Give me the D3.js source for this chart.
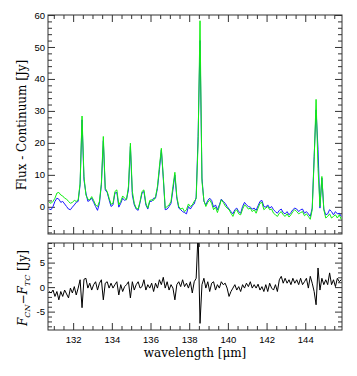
<!DOCTYPE html>
<meta charset="utf-8">
<style>
body { margin: 0; background: #fff; }
svg { display: block; font-family: "DejaVu Serif", serif; }
.tick text { font-size: 9.5px; fill: #000; }
.tick line { stroke: #333; }
.frame { fill: none; stroke: #333; stroke-width: 1px; }
.title { font-size: 12px; fill: #000; }
</style>

<svg width="357" height="376"></svg>

<script src="https://d3js.org/d3.v7.min.js"></script>
<script>

// wavelength grid [micron]
var wavelength = [
  130.76,130.86,130.96,131.06,131.16,131.26,131.36,131.46,131.56,131.66,
  131.76,131.86,131.96,132.06,132.16,132.26,132.36,132.46,132.56,132.66,
  132.76,132.86,132.96,133.06,133.16,133.26,133.36,133.46,133.56,133.66,
  133.76,133.86,133.96,134.06,134.16,134.26,134.36,134.46,134.56,134.66,
  134.76,134.86,134.96,135.06,135.16,135.26,135.36,135.46,135.56,135.66,
  135.76,135.86,135.96,136.06,136.16,136.26,136.36,136.46,136.56,136.66,
  136.76,136.86,136.96,137.06,137.16,137.26,137.36,137.46,137.56,137.66,
  137.76,137.86,137.96,138.06,138.16,138.26,138.36,138.46,138.56,138.66,
  138.76,138.86,138.96,139.06,139.16,139.26,139.36,139.46,139.56,139.66,
  139.76,139.86,139.96,140.06,140.16,140.26,140.36,140.46,140.56,140.66,
  140.76,140.86,140.96,141.06,141.16,141.26,141.36,141.46,141.56,141.66,
  141.76,141.86,141.96,142.06,142.16,142.26,142.36,142.46,142.56,142.66,
  142.76,142.86,142.96,143.06,143.16,143.26,143.36,143.46,143.56,143.66,
  143.76,143.86,143.96,144.06,144.16,144.26,144.36,144.46,144.56,144.66,
  144.76,144.86,144.96,145.06,145.16,145.26,145.36,145.46,145.56,145.66,
  145.76,145.86
];

// green spectrum (CN)
var fluxCN = [
  1.4,1.1,1.7,2.7,4.3,4.5,3.7,3.4,2.7,2.4,
  1.7,1.1,1.4,2.0,1.7,2.2,7.4,28.4,9.5,3.7,
  2.4,2.2,3.2,2.0,0.6,0.1,1.7,7.4,22.0,5.8,
  4.8,2.7,0.8,1.1,4.8,5.3,0.6,1.7,3.4,2.7,
  2.2,6.4,19.9,4.8,1.1,-0.4,-0.7,1.7,4.8,5.3,
  1.1,-0.4,2.0,2.2,2.0,3.2,6.4,12.6,18.3,9.5,
  -0.4,0.1,0.6,1.7,6.4,10.8,3.2,0.1,-0.7,-0.4,
  -1.5,-0.9,0.9,0.1,0.6,1.7,2.5,20.0,58.2,8.0,
  2.0,0.1,1.4,2.2,1.1,-0.9,-0.1,-1.8,0.1,2.2,
  1.4,0.3,-0.4,-0.9,-2.0,-3.0,-1.5,-0.9,-2.2,-2.5,
  -0.7,0.6,0.1,-0.7,-0.4,-1.5,-0.9,-2.0,-0.4,1.1,
  1.4,-0.9,-0.4,0.1,-0.9,-0.7,-2.0,-2.5,-3.0,-2.0,
  -1.5,-2.5,-3.0,-2.2,-3.2,-2.5,-1.5,-0.9,-1.5,-2.2,
  -1.8,-1.5,-2.8,-2.2,-3.0,-3.9,-0.9,14.7,33.6,12.0,
  0.1,9.5,-0.9,-3.5,-3.0,-2.2,-3.5,-3.0,-2.5,-3.5,
  -2.5,-3.9
];

// blue spectrum (TC)
var fluxTC = [
  -0.7,-0.9,0.1,1.7,2.7,2.4,1.4,1.7,0.9,0.1,
  -0.7,-0.9,-0.1,0.6,1.4,1.7,6.9,27.2,8.4,4.3,
  1.7,2.0,2.7,1.4,0.1,-1.1,1.1,6.9,20.7,5.3,
  4.5,2.2,0.1,0.6,4.3,4.5,-0.1,1.1,2.7,2.0,
  2.4,5.3,18.9,3.7,0.6,-0.7,-1.1,1.4,4.3,4.8,
  0.6,-0.7,1.7,1.7,2.7,2.7,5.8,11.6,17.8,9.0,
  -0.9,-0.7,0.1,1.1,5.3,10.0,2.7,-0.4,-0.9,-1.5,
  -1.8,-2.2,0.1,-0.7,0.3,0.9,3.0,22.0,52.0,9.0,
  1.7,0.6,2.0,2.7,2.0,-0.1,0.6,-0.9,0.6,2.4,
  1.7,1.1,0.1,-0.7,-1.5,-2.2,-0.9,-0.4,-1.5,-2.0,
  0.1,1.4,0.6,0.1,-0.1,-0.7,-0.4,-1.1,0.3,1.7,
  2.0,0.1,-0.1,0.6,-0.4,0.1,-0.9,-1.5,-2.0,-1.1,
  -0.7,-1.8,-2.2,-1.5,-2.5,-1.8,-0.9,-0.4,-0.7,-1.5,
  -0.9,-0.7,-2.0,-1.5,-2.2,-3.0,-0.4,15.7,30.3,18.0,
  -0.4,9.0,-0.7,-2.5,-2.2,-0.9,-1.5,-2.5,-1.5,-2.2,
  -2.0,-3.0
];

// F_CN - F_TC
var residual = [
  -0.9,-1.2,-0.6,-1.9,-0.9,-2.6,-0.9,-1.9,-0.6,-1.4,
  -2.2,-0.2,-1.2,0.1,-1.6,-0.2,1.5,-4.2,1.6,1.8,
  -0.2,0.8,-0.6,0.5,1.1,-0.6,0.8,1.5,-2.6,0.8,
  1.1,-0.2,0.8,-0.2,0.5,1.1,-1.6,0.5,-0.9,0.1,
  0.5,1.1,-2.2,1.1,-0.6,0.5,1.1,-0.2,0.1,1.5,
  -0.6,0.5,-0.2,0.8,-0.9,0.8,-0.2,1.5,0.5,2.0,
  -0.2,1.1,-0.6,0.5,-0.2,-2.6,0.5,1.1,0.1,1.5,
  0.1,0.8,-0.2,1.1,-1.2,1.1,1.8,11.0,-7.4,0.5,
  1.8,-0.2,1.1,-0.9,0.8,1.1,-0.6,0.5,-0.2,1.1,
  0.5,0.8,-0.2,-1.9,-0.9,-0.2,0.5,-0.6,0.1,-0.9,
  0.5,-0.2,0.8,0.1,1.1,-0.2,0.5,-0.2,0.6,-0.6,
  0.1,-0.9,0.5,-0.9,0.8,-0.2,-0.6,0.5,-0.9,1.5,
  2.2,0.8,1.8,0.8,1.5,0.5,1.8,0.8,1.5,0.5,
  1.8,0.5,1.1,1.8,-0.2,2.2,0.8,-0.9,-3.6,3.9,
  -0.6,1.8,0.5,1.5,0.5,2.9,0.5,1.5,0.1,1.8,
  1.1,1.5
];

var xTicks = [132, 134, 136, 138, 140, 142, 144];
var yTicksTop = [0, 10, 20, 30, 40, 50, 60];
var yTicksBottom = [-5, 0, 5];

var svg = d3.select("svg"),
    left = 48, right = 342,
    top1 = 15, bot1 = 234,
    top2 = 243, bot2 = 330;

var x = d3.scaleLinear().domain([130.7, 145.9]).range([left, right]);
var y1 = d3.scaleLinear().domain([-8.5, 60]).range([bot1, top1]);
var y2 = d3.scaleLinear().domain([-8.75, 9]).range([bot2, top2]);

// minor ticks
var xMinor = d3.range(131, 146, 0.5).filter(function(v) { return xTicks.indexOf(v) < 0; });
var y1Minor = d3.range(-8, 60, 2).filter(function(v) { return v % 10 != 0; });
var y2Minor = d3.range(-8, 10, 1).filter(function(v) { return v % 5 != 0; });

var none = function() { return ""; };
var plain = function(d) { return d < 0 ? "-" + (-d) : String(d); };

function panel(name, y, yMajor, yMinor, top, bot, xLabels) {
  var g = svg.append("g").attr("class", name);

  g.append("clipPath").attr("id", "clip-" + name)
    .append("rect")
      .attr("x", left).attr("y", top)
      .attr("width", right - left).attr("height", bot - top);

  function ax(a, tx, ty, vals, size, fmt, pad) {
    var s = g.append("g")
      .attr("transform", "translate(" + tx + "," + ty + ")")
      .call(a.tickValues(vals).tickSize(size).tickPadding(pad).tickFormat(fmt));
    s.select(".domain").remove();
    return s;
  }

  // x ticks, bottom and top
  ax(d3.axisBottom(x), 0, bot, xTicks, -7, xLabels ? plain : none, 6.6);
  ax(d3.axisBottom(x), 0, bot, xMinor, -4, none, 3);
  ax(d3.axisTop(x), 0, top, xTicks, -7, none, 3);
  ax(d3.axisTop(x), 0, top, xMinor, -4, none, 3);

  // y ticks, left and right
  ax(d3.axisLeft(y), left, 0, yMajor, -7, plain, 3);
  ax(d3.axisLeft(y), left, 0, yMinor, -4, none, 3);
  ax(d3.axisRight(y), right, 0, yMajor, -7, none, 3);
  ax(d3.axisRight(y), right, 0, yMinor, -4, none, 3);

  g.append("rect")
    .attr("class", "frame")
    .attr("x", left).attr("y", top)
    .attr("width", right - left).attr("height", bot - top);

  return g;
}

var gTop = panel("top", y1, yTicksTop, y1Minor, top1, bot1, false);
var gBot = panel("bot", y2, yTicksBottom, y2Minor, top2, bot2, true);

// drop empty labels
svg.selectAll(".tick text").filter(function() { return this.textContent === ""; }).remove();

function lineFor(y) {
  return d3.line()
    .x(function(d, i) { return x(wavelength[i]); })
    .y(function(d) { return y(d); });
}

gTop.append("path")
  .datum(fluxTC)
  .attr("clip-path", "url(#clip-top)")
  .attr("fill", "none")
  .attr("stroke", "#1a1aff")
  .attr("stroke-width", 1)
  .attr("d", lineFor(y1));

gTop.append("path")
  .datum(fluxCN)
  .attr("clip-path", "url(#clip-top)")
  .attr("fill", "none")
  .attr("stroke", "#11ee11")
  .attr("stroke-width", 1)
  .attr("d", lineFor(y1));

gBot.append("path")
  .datum(residual)
  .attr("clip-path", "url(#clip-bot)")
  .attr("fill", "none")
  .attr("stroke", "#000")
  .attr("stroke-width", 1)
  .attr("d", lineFor(y2));

// axis titles
svg.append("text")
  .attr("class", "title")
  .attr("text-anchor", "middle")
  .attr("transform", "translate(26,125) rotate(-90)")
  .text("Flux - Continuum [Jy]");

var t2 = svg.append("text")
  .attr("class", "title")
  .attr("text-anchor", "middle")
  .attr("transform", "translate(27,288) rotate(-90)");
t2.append("tspan").attr("font-style", "italic").text("F");
t2.append("tspan").attr("font-style", "italic").attr("font-size", "8px").attr("dy", 3).text("CN");
t2.append("tspan").attr("dy", -3).text("\u2212");
t2.append("tspan").attr("font-style", "italic").text("F");
t2.append("tspan").attr("font-style", "italic").attr("font-size", "8px").attr("dy", 3).text("TC");
t2.append("tspan").attr("dy", -3).text(" [Jy]");

svg.append("text")
  .attr("class", "title")
  .attr("text-anchor", "middle")
  .attr("x", (left + right) / 2)
  .attr("y", 356.5)
  .text("wavelength [\u03bcm]");

</script>
